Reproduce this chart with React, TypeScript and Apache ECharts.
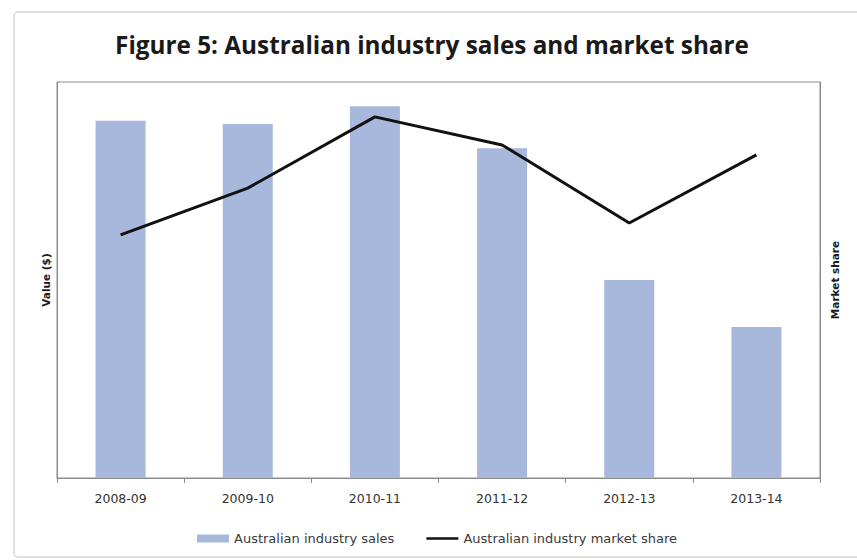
import React, { useEffect, useRef } from "react";
import * as echarts from "echarts";

const categories = ["2008-09", "2009-10", "2010-11", "2011-12", "2012-13", "2013-14"];
const salesValues = [90.2, 89.4, 93.9, 83.3, 50.0, 38.1];
const shareValues = [61.4, 73.2, 91.2, 84.1, 64.4, 81.6];
const titleText = "Figure 5: Australian industry sales and market share";
const salesName = "Australian industry sales";
const shareName = "Australian industry market share";

export default function App() {
  const ref = useRef<HTMLDivElement>(null);
  useEffect(() => {
    if (!ref.current) return;
    const chart = echarts.init(ref.current, null, { renderer: "svg" });
    const titleFont = "'Open Sans', 'Liberation Sans', sans-serif";
    const font = "'DejaVu Sans', 'Liberation Sans', sans-serif";
    chart.setOption({
      animation: false,
      backgroundColor: "#ffffff",
      textStyle: { fontFamily: font },
      title: {
        text: titleText,
        left: 427,
        textAlign: "center",
        top: 27,
        textStyle: { fontSize: 24.3, fontWeight: "bold", color: "#1a1a1a", fontFamily: titleFont },
      },
      graphic: [
        {
          type: "rect",
          shape: { x: 14, y: 12, width: 870, height: 545, r: 4 },
          style: { fill: "none", stroke: "#d6d6d6", lineWidth: 1.5 },
          silent: true,
          z: -10,
        },
      ],
      grid: {
        left: 57,
        right: 37,
        top: 82,
        bottom: 82,
        show: true,
        borderColor: "#8c8c8c",
        borderWidth: 1,
        containLabel: false,
      },
      legend: {
        left: 192,
        top: 527,
        itemGap: 32,
        itemWidth: 32,
        itemHeight: 8,
        textStyle: { fontSize: 13, color: "#3a3a3a", fontFamily: font },
        data: [
          { name: salesName, icon: "rect" },
          { name: shareName, icon: "path://M0,0H36V3H0Z" },
        ],
      },
      xAxis: {
        type: "category",
        data: categories,
        axisLine: { lineStyle: { color: "#8c8c8c", width: 1 } },
        axisTick: { show: true, length: 5, alignWithLabel: false, lineStyle: { color: "#8c8c8c" } },
        axisLabel: { fontSize: 12.5, color: "#333", margin: 14, fontFamily: font },
      },
      yAxis: [
        {
          type: "value",
          min: 0,
          max: 100,
          name: "Value ($)",
          nameLocation: "middle",
          nameRotate: 90,
          nameGap: 6,
          nameTextStyle: { fontSize: 10.5, fontWeight: "bold", color: "#1a1a1a", fontFamily: font },
          axisLabel: { show: false },
          axisTick: { show: false },
          splitLine: { show: false },
          axisLine: { show: true, lineStyle: { color: "#8c8c8c" } },
        },
        {
          type: "value",
          min: 0,
          max: 100,
          position: "right",
          name: "Market share",
          nameLocation: "middle",
          nameRotate: 90,
          nameGap: 9,
          nameTextStyle: { fontSize: 10.5, fontWeight: "bold", color: "#1a1a1a", fontFamily: font },
          axisLabel: { show: false },
          axisTick: { show: false },
          splitLine: { show: false },
          axisLine: { show: true, lineStyle: { color: "#8c8c8c" } },
        },
      ],
      series: [
        {
          name: salesName,
          type: "bar",
          data: salesValues,
          yAxisIndex: 0,
          barWidth: 50,
          itemStyle: { color: "#a8b8dc" },
        },
        {
          name: shareName,
          type: "line",
          data: shareValues,
          yAxisIndex: 1,
          symbol: "none",
          lineStyle: { color: "#111111", width: 3 },
          itemStyle: { color: "#111111" },
        },
      ],
    });
    return () => chart.dispose();
  }, []);
  return <div ref={ref} style={{ width: 857, height: 560, position: "absolute", left: 0, top: 0 }} />;
}
